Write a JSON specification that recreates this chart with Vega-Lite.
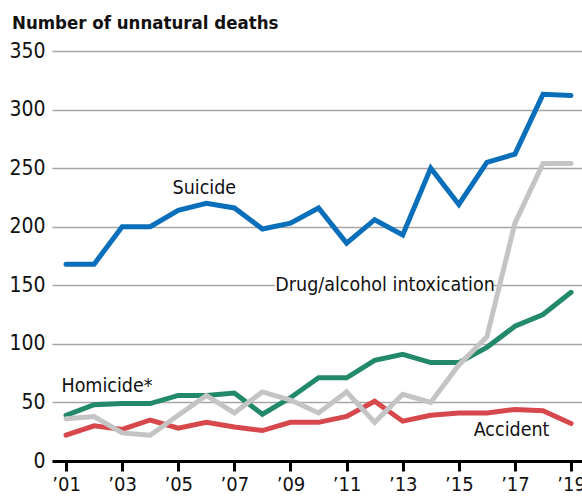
{
  "$schema": "https://vega.github.io/schema/vega-lite/v6.json",
  "width": 530,
  "height": 410,
  "padding": {"left": 52, "top": 51, "right": 0, "bottom": 36},
  "autosize": {"type": "none"},
  "background": "white",
  "config": {
    "view": {"stroke": null},
    "font": "'DejaVu Sans Condensed', sans-serif"
  },
  "title": {
    "text": "Number of unnatural deaths",
    "anchor": "start",
    "frame": "bounds",
    "fontSize": 18.5,
    "fontWeight": "bold",
    "color": "#111111",
    "offset": 8,
    "dx": 3
  },
  "datasets": {
    "series": [
      {"year": 2001, "cause": "Accident", "deaths": 22},
      {"year": 2002, "cause": "Accident", "deaths": 30},
      {"year": 2003, "cause": "Accident", "deaths": 27},
      {"year": 2004, "cause": "Accident", "deaths": 35},
      {"year": 2005, "cause": "Accident", "deaths": 28},
      {"year": 2006, "cause": "Accident", "deaths": 33},
      {"year": 2007, "cause": "Accident", "deaths": 29},
      {"year": 2008, "cause": "Accident", "deaths": 26},
      {"year": 2009, "cause": "Accident", "deaths": 33},
      {"year": 2010, "cause": "Accident", "deaths": 33},
      {"year": 2011, "cause": "Accident", "deaths": 38},
      {"year": 2012, "cause": "Accident", "deaths": 51},
      {"year": 2013, "cause": "Accident", "deaths": 34},
      {"year": 2014, "cause": "Accident", "deaths": 39},
      {"year": 2015, "cause": "Accident", "deaths": 41},
      {"year": 2016, "cause": "Accident", "deaths": 41},
      {"year": 2017, "cause": "Accident", "deaths": 44},
      {"year": 2018, "cause": "Accident", "deaths": 43},
      {"year": 2019, "cause": "Accident", "deaths": 32},
      {"year": 2001, "cause": "Homicide", "deaths": 39},
      {"year": 2002, "cause": "Homicide", "deaths": 48},
      {"year": 2003, "cause": "Homicide", "deaths": 49},
      {"year": 2004, "cause": "Homicide", "deaths": 49},
      {"year": 2005, "cause": "Homicide", "deaths": 56},
      {"year": 2006, "cause": "Homicide", "deaths": 56},
      {"year": 2007, "cause": "Homicide", "deaths": 58},
      {"year": 2008, "cause": "Homicide", "deaths": 40},
      {"year": 2009, "cause": "Homicide", "deaths": 54},
      {"year": 2010, "cause": "Homicide", "deaths": 71},
      {"year": 2011, "cause": "Homicide", "deaths": 71},
      {"year": 2012, "cause": "Homicide", "deaths": 86},
      {"year": 2013, "cause": "Homicide", "deaths": 91},
      {"year": 2014, "cause": "Homicide", "deaths": 84},
      {"year": 2015, "cause": "Homicide", "deaths": 84},
      {"year": 2016, "cause": "Homicide", "deaths": 97},
      {"year": 2017, "cause": "Homicide", "deaths": 115},
      {"year": 2018, "cause": "Homicide", "deaths": 125},
      {"year": 2019, "cause": "Homicide", "deaths": 144},
      {"year": 2001, "cause": "Drug", "deaths": 36},
      {"year": 2002, "cause": "Drug", "deaths": 38},
      {"year": 2003, "cause": "Drug", "deaths": 24},
      {"year": 2004, "cause": "Drug", "deaths": 22},
      {"year": 2005, "cause": "Drug", "deaths": 39},
      {"year": 2006, "cause": "Drug", "deaths": 56},
      {"year": 2007, "cause": "Drug", "deaths": 41},
      {"year": 2008, "cause": "Drug", "deaths": 59},
      {"year": 2009, "cause": "Drug", "deaths": 52},
      {"year": 2010, "cause": "Drug", "deaths": 41},
      {"year": 2011, "cause": "Drug", "deaths": 59},
      {"year": 2012, "cause": "Drug", "deaths": 33},
      {"year": 2013, "cause": "Drug", "deaths": 57},
      {"year": 2014, "cause": "Drug", "deaths": 50},
      {"year": 2015, "cause": "Drug", "deaths": 82},
      {"year": 2016, "cause": "Drug", "deaths": 106},
      {"year": 2017, "cause": "Drug", "deaths": 203},
      {"year": 2018, "cause": "Drug", "deaths": 254},
      {"year": 2019, "cause": "Drug", "deaths": 254},
      {"year": 2001, "cause": "Suicide", "deaths": 168},
      {"year": 2002, "cause": "Suicide", "deaths": 168},
      {"year": 2003, "cause": "Suicide", "deaths": 200},
      {"year": 2004, "cause": "Suicide", "deaths": 200},
      {"year": 2005, "cause": "Suicide", "deaths": 214},
      {"year": 2006, "cause": "Suicide", "deaths": 220},
      {"year": 2007, "cause": "Suicide", "deaths": 216},
      {"year": 2008, "cause": "Suicide", "deaths": 198},
      {"year": 2009, "cause": "Suicide", "deaths": 203},
      {"year": 2010, "cause": "Suicide", "deaths": 216},
      {"year": 2011, "cause": "Suicide", "deaths": 186},
      {"year": 2012, "cause": "Suicide", "deaths": 206},
      {"year": 2013, "cause": "Suicide", "deaths": 193},
      {"year": 2014, "cause": "Suicide", "deaths": 250},
      {"year": 2015, "cause": "Suicide", "deaths": 219},
      {"year": 2016, "cause": "Suicide", "deaths": 255},
      {"year": 2017, "cause": "Suicide", "deaths": 262},
      {"year": 2018, "cause": "Suicide", "deaths": 313},
      {"year": 2019, "cause": "Suicide", "deaths": 312}
    ],
    "labels": [
      {"label": "Suicide", "x": 2005.93, "y": 233},
      {"label": "Drug/alcohol intoxication", "x": 2012.37, "y": 150},
      {"label": "Homicide*", "x": 2002.46, "y": 64},
      {"label": "Accident", "x": 2016.88, "y": 26.5}
    ],
    "boxes": [
      {"x": 2008.45, "x2": 2016.18, "y": 143, "y2": 157}
    ]
  },
  "layer": [
    {
      "data": {"name": "boxes"},
      "mark": {"type": "rect", "color": "white"},
      "encoding": {
        "x": {"field": "x", "type": "quantitative", "scale": {"domain": [2000.5, 2019.39], "nice": false, "zero": false}},
        "x2": {"field": "x2"},
        "y": {"field": "y", "type": "quantitative", "scale": {"domain": [0, 350], "nice": false}},
        "y2": {"field": "y2"}
      }
    },
    {
      "data": {"name": "series"},
      "mark": {"type": "line", "strokeWidth": 5, "strokeCap": "round"},
      "encoding": {
        "x": {
          "field": "year",
          "type": "quantitative",
          "scale": {"domain": [2000.5, 2019.39], "nice": false, "zero": false},
          "axis": {
            "title": null,
            "values": [2001, 2002, 2003, 2004, 2005, 2006, 2007, 2008, 2009, 2010, 2011, 2012, 2013, 2014, 2015, 2016, 2017, 2018, 2019],
            "labelExpr": "datum.value % 2 == 1 ? '’' + slice(toString(datum.value), 2) : ''",
            "grid": false,
            "domainColor": "#000000",
            "domainWidth": 3,
            "tickColor": "#000000",
            "tickWidth": 3,
            "tickSize": 10,
            "labelFontSize": 20,
            "labelColor": "#111111",
            "labelPadding": 3,
            "labelFlush": false,
            "labelOverlap": false
          }
        },
        "y": {
          "field": "deaths",
          "type": "quantitative",
          "scale": {"domain": [0, 350], "nice": false},
          "axis": {
            "title": null,
            "values": [0, 50, 100, 150, 200, 250, 300, 350],
            "domain": false,
            "ticks": false,
            "gridColor": "#a6a6a6",
            "gridWidth": 1.5,
            "labelFontSize": 21,
            "labelColor": "#111111",
            "labelPadding": 7
          }
        },
        "color": {
          "field": "cause",
          "type": "nominal",
          "scale": {
            "domain": ["Accident", "Homicide", "Drug", "Suicide"],
            "range": ["#d6484c", "#22896a", "#c4c4c4", "#0a6fba"]
          },
          "legend": null
        }
      }
    },
    {
      "data": {"name": "labels"},
      "mark": {"type": "text", "fontSize": 19.5, "color": "#111111", "align": "center", "baseline": "middle"},
      "encoding": {
        "x": {"field": "x", "type": "quantitative"},
        "y": {"field": "y", "type": "quantitative"},
        "text": {"field": "label"}
      }
    }
  ]
}
